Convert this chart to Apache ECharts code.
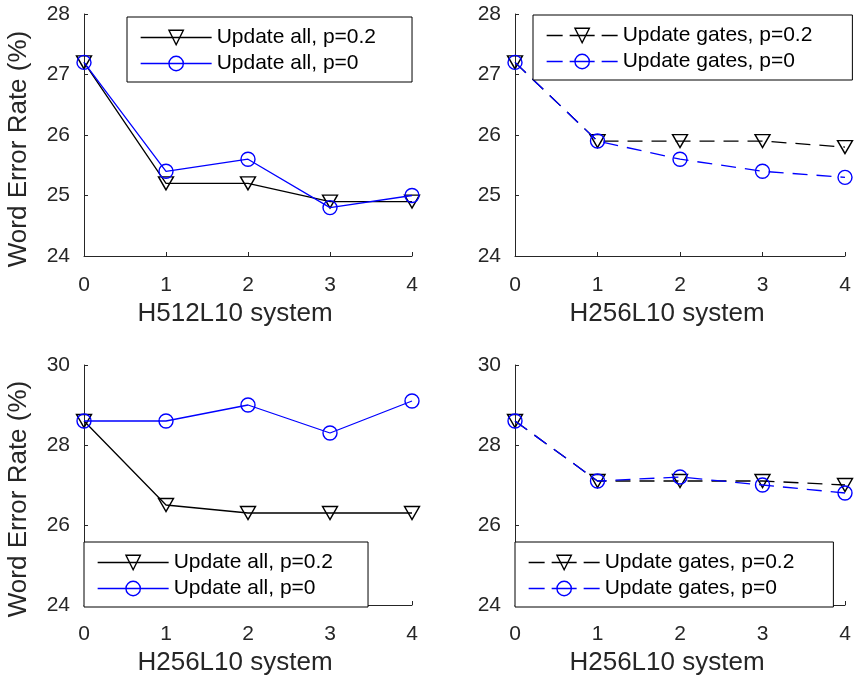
<!DOCTYPE html>
<html>
<head>
<meta charset="utf-8">
<script src="https://cdn.jsdelivr.net/npm/echarts@6/dist/echarts.min.js"></script>
<style>html,body{margin:0;padding:0;background:#fff}#c{width:854px;height:677px}</style>
</head>
<body>
<div id="c"></div>
<script>
const xVals = [0, 1, 2, 3, 4];
const xTicks = ['0', '1', '2', '3', '4'];
// Top-left: H512L10, update all
const tlAll02 = [27.2, 25.2, 25.2, 24.9, 24.9];
const tlAll0 = [27.2, 25.4, 25.6, 24.8, 25.0];
// Top-right: H256L10, update gates
const trGates02 = [27.2, 25.9, 25.9, 25.9, 25.8];
const trGates0 = [27.2, 25.9, 25.6, 25.4, 25.3];
// Bottom-left: H256L10, update all
const blAll02 = [28.6, 26.5, 26.3, 26.3, 26.3];
const blAll0 = [28.6, 28.6, 29.0, 28.3, 29.1];
// Bottom-right: H256L10, update gates
const brGates02 = [28.6, 27.1, 27.1, 27.1, 27.0];
const brGates0 = [28.6, 27.1, 27.2, 27.0, 26.8];
const xTitles = ['H512L10 system', 'H256L10 system', 'H256L10 system', 'H256L10 system'];
const yTitle = 'Word Error Rate (%)';
const names = ['Update all, p=0.2', 'Update all, p=0', 'Update gates, p=0.2', 'Update gates, p=0'];

const FONT = 'Liberation Sans, Arial, Helvetica, sans-serif';
const TXT = '#262626';
const BLACK = '#000000';
const BLUE = '#0000ff';
const DASH = [15, 9];
const LEGEND_DASH = [16, 7, 25, 7, 16];

const grids = [
  {left: 84, top: 14, width: 328, height: 242},
  {left: 515, top: 14, width: 330, height: 242},
  {left: 84, top: 365, width: 328, height: 241},
  {left: 515, top: 365, width: 330, height: 241}
];

function pairs(ys) { return xVals.map((x, i) => [x, ys[i]]); }

const xAxes = grids.map((g, i) => ({
  type: 'value', gridIndex: i, min: 0, max: 4, interval: 1,
  name: xTitles[i], nameLocation: 'middle', nameGap: 45,
  nameTextStyle: {fontFamily: FONT, fontSize: 26, color: TXT, padding: [0, 26, 0, 0]},
  axisLine: {show: true, lineStyle: {color: TXT, width: 1}},
  axisTick: {show: true, inside: true, length: 4, lineStyle: {color: TXT}},
  axisLabel: {fontFamily: FONT, fontSize: 21, color: TXT, margin: 19, formatter: v => xTicks[v]},
  splitLine: {show: false}
}));

const yAxes = grids.map((g, i) => ({
  type: 'value', gridIndex: i,
  min: 24, max: i < 2 ? 28 : 30, interval: i < 2 ? 1 : 2,
  name: (i % 2 === 0) ? yTitle : '', nameLocation: 'middle', nameGap: 52,
  nameTextStyle: {fontFamily: FONT, fontSize: 26, color: TXT, padding: [0, 28, 0, 0]},
  axisLine: {show: true, lineStyle: {color: TXT, width: 1}},
  axisTick: {show: true, inside: true, length: 4, lineStyle: {color: TXT}},
  axisLabel: {fontFamily: FONT, fontSize: 21, color: TXT, margin: 14},
  splitLine: {show: false}
}));

function mkSeries(name, ys, gi, color, dashed, tri) {
  return {
    type: 'line', name: name, xAxisIndex: gi, yAxisIndex: gi,
    data: pairs(ys),
    symbol: tri ? 'triangle' : 'circle',
    symbolRotate: tri ? 180 : 0,
    symbolSize: tri ? [15, 13] : 14,
    showAllSymbol: true,
    lineStyle: {color: color, width: 1.3, type: dashed ? DASH : 'solid'},
    itemStyle: {color: 'rgba(0,0,0,0)', borderColor: color, borderWidth: 1.4},
    emphasis: {disabled: true},
    animation: false,
    z: tri ? 2 : 3
  };
}

function legItem(name, color, dashed) {
  return {
    name: name,
    itemStyle: {color: 'rgba(0,0,0,0)', borderColor: color, borderWidth: 1.4},
    lineStyle: {color: color, width: 1.3, type: dashed ? LEGEND_DASH : 'solid'}
  };
}

function mkLegend(pos, a, b, dashed, rightPad) {
  return {
    left: pos[0], top: pos[1], orient: 'vertical',
    backgroundColor: '#ffffff', borderColor: BLACK, borderWidth: 1,
    padding: [10, rightPad, 8, 13],
    itemWidth: 71, itemHeight: 18, itemGap: 5,
    selectedMode: false,
    textStyle: {fontFamily: FONT, fontSize: 21, color: BLACK},
    data: [legItem(a, BLACK, dashed), legItem(b, BLUE, dashed)]
  };
}

const series = [
  mkSeries(names[0], tlAll02, 0, BLACK, false, true),
  mkSeries(names[1], tlAll0, 0, BLUE, false, false),
  mkSeries(names[2], trGates02, 1, BLACK, true, true),
  mkSeries(names[3], trGates0, 1, BLUE, true, false),
  mkSeries(names[0], blAll02, 2, BLACK, false, true),
  mkSeries(names[1], blAll0, 2, BLUE, false, false),
  mkSeries(names[2], brGates02, 3, BLACK, true, true),
  mkSeries(names[3], brGates0, 3, BLUE, true, false)
];

const legends = [
  mkLegend([127, 17], names[0], names[1], false, 36),
  mkLegend([533, 15], names[2], names[3], true, 40),
  mkLegend([84, 542], names[0], names[1], false, 35),
  mkLegend([515, 542], names[2], names[3], true, 39)
];

const chart = echarts.init(document.getElementById('c'), null, {renderer: 'canvas'});
chart.setOption({
  backgroundColor: '#ffffff',
  animation: false,
  grid: grids,
  xAxis: xAxes,
  yAxis: yAxes,
  legend: legends,
  series: series
});
</script>
</body>
</html>
